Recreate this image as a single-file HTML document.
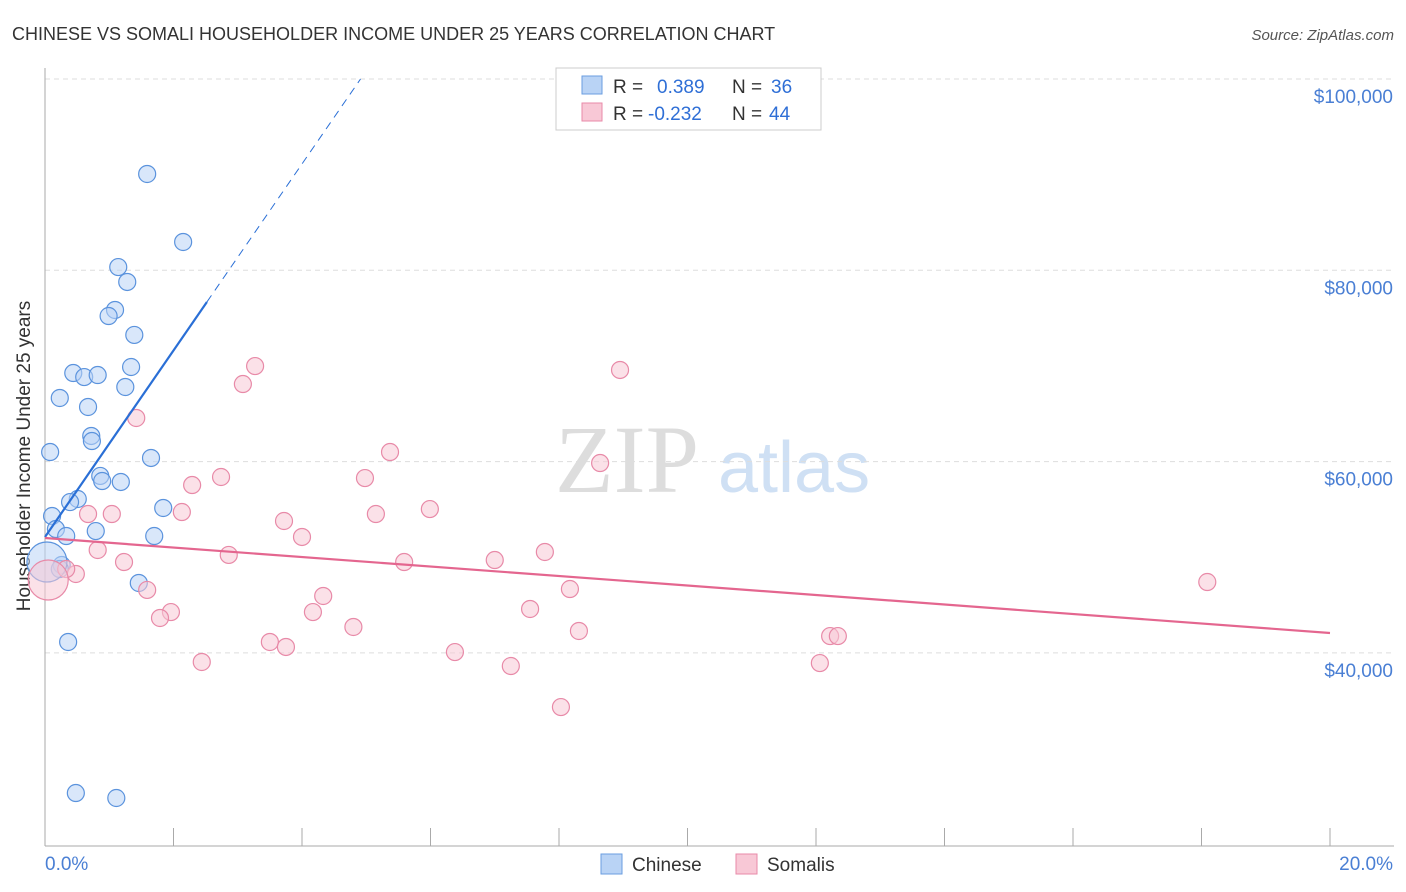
<!DOCTYPE html>
<html><head><meta charset="utf-8">
<style>
body{margin:0;background:#fff;font-family:"Liberation Sans",sans-serif;}
#wrap{position:relative;width:1406px;height:892px;overflow:hidden;}
</style></head>
<body>
<div id="wrap">
<svg id="chart" width="1406" height="892" xmlns="http://www.w3.org/2000/svg">
<text x="12" y="40" font-size="18" fill="#333">CHINESE VS SOMALI HOUSEHOLDER INCOME UNDER 25 YEARS CORRELATION CHART</text>
<text x="1394" y="40" font-size="15" fill="#555" font-style="italic" text-anchor="end">Source: ZipAtlas.com</text>
<text x="30" y="456" font-size="19" fill="#333" text-anchor="middle" transform="rotate(-90 30 456)">Householder Income Under 25 years</text>
<text x="555" y="492" font-size="96" fill="#ddd" font-family="Liberation Serif,serif">ZIP</text>
<text x="718" y="492" font-size="72" fill="#cfe0f4">atlas</text>
<g id="grid"></g><g id="marks"></g>
<g>
<rect x="556" y="68" width="265" height="62" fill="#fff" stroke="#ccc"/>
<rect x="582" y="76" width="20" height="18" fill="#b9d3f5" stroke="#6a9ee0"/>
<text x="613" y="93" font-size="19" fill="#333">R = </text><text x="657" y="93" font-size="19" fill="#2f6fd6">0.389</text>
<text x="732" y="93" font-size="19" fill="#333">N = </text><text x="771" y="93" font-size="19" fill="#2f6fd6">36</text>
<rect x="582" y="103" width="20" height="18" fill="#f8c8d6" stroke="#e88aa8"/>
<text x="613" y="120" font-size="19" fill="#333">R = </text><text x="648" y="120" font-size="19" fill="#2f6fd6">-0.232</text>
<text x="732" y="120" font-size="19" fill="#333">N = </text><text x="769" y="120" font-size="19" fill="#2f6fd6">44</text>
</g>
<g>
<rect x="601" y="854" width="21" height="20" fill="#b9d3f5" stroke="#6a9ee0"/>
<text x="632" y="871" font-size="19" fill="#333">Chinese</text>
<rect x="736" y="854" width="21" height="20" fill="#f8c8d6" stroke="#e88aa8"/>
<text x="767" y="871" font-size="19" fill="#333">Somalis</text>
</g>
<text x="45" y="870" font-size="19" fill="#4a7fd4">0.0%</text>
<text x="1393" y="870" font-size="19" fill="#4a7fd4" text-anchor="end">20.0%</text>
</svg>
</div>
<script>
const chineseX=[1.59,2.15,1.14,1.28,1.09,0.99,1.39,1.34,0.44,0.61,0.82,1.25,0.23,0.67,0.72,0.73,0.08,1.65,0.86,0.89,1.18,0.51,0.39,1.84,0.11,0.17,0.33,0.79,1.70,0.26,0.23,1.46,0.36,0.48,1.11,0.03];
const chineseY=[90070,82960,80340,78780,75850,75220,73240,69890,69260,68840,69050,67800,66650,65710,62680,62150,61000,60380,58500,57970,57870,56090,55770,55150,54310,52950,52220,52740,52220,49190,48770,47310,41140,25350,24830,49500];
const somaliX=[3.27,3.08,8.95,1.42,5.37,8.64,2.74,2.29,4.98,5.99,2.13,1.04,0.67,5.15,3.72,4.0,0.82,2.86,7.78,1.23,5.59,7.0,0.48,0.33,1.59,8.17,4.33,18.09,7.55,1.96,1.79,4.17,4.8,8.31,12.22,12.34,3.5,3.75,6.38,2.44,7.25,12.06,8.03,0.05];
const somaliY=[69990,68110,69580,64560,61000,59850,58390,57550,58280,55040,54730,54520,54520,54520,53790,52120,50760,50240,50550,49500,49500,49710,48250,48770,46580,46680,45950,47410,44590,44270,43650,44270,42710,42290,41760,41760,41140,40620,40090,39050,38630,38940,34340,47620];
const yTicks=[100000,80000,60000,40000];
const yTickLabels=["$100,000","$80,000","$60,000","$40,000"];
const xTicks=[0,2,4,6,8,10,12,14,16,18,20];
const chineseFit=[52120,9750];
const somaliFit=[52010,-496.5];
const NS="http://www.w3.org/2000/svg";
function sx(v){return 45+v*64.25;}
function sy(v){return 79+(100000-v)*191.3/20000;}
function mk(t,a,p){const e=document.createElementNS(NS,t);for(const k in a)e.setAttribute(k,a[k]);p.appendChild(e);return e;}
const grid=document.getElementById('grid'),marks=document.getElementById('marks');
yTicks.forEach((v,i)=>{
 const l=mk('line',{x1:45,x2:1394,y1:sy(v),y2:sy(v),stroke:'#ddd','stroke-dasharray':'5,4'},grid);
 
 
 const t=mk('text',{x:1393,y:sy(v)+24,'font-size':19,fill:'#4a7fd4','text-anchor':'end'},grid);
 t.textContent=yTickLabels[i];
 
 
});
const ax=mk('line',{x1:45,x2:45,y1:68,y2:846,stroke:'#aaa'},grid);


const bx=mk('line',{x1:45,x2:1394,y1:846,y2:846,stroke:'#aaa'},grid);


xTicks.forEach(v=>{
 const l=mk('line',{x1:sx(v),x2:sx(v),y1:828,y2:846,stroke:'#aaa'},grid);
 
 
});
function pts(X,Y,fill,stroke,name,bigIdx){
 X.forEach((x,i)=>{
  const c=mk('circle',{cx:sx(x),cy:sy(Y[i]),r:i===bigIdx?20:8.5,fill:fill,'fill-opacity':0.55,stroke:stroke,'stroke-width':1.2},marks);
  
  
 });
}
pts(chineseX,chineseY,'#b9d3f5','#5b93dd','chinese-point',35);
pts(somaliX,somaliY,'#f8c8d6','#e88aa8','somali-point',43);
const xe=2.52,xd=(100000-chineseFit[0])/chineseFit[1];
const cl=mk('line',{x1:sx(0),y1:sy(chineseFit[0]),x2:sx(xe),y2:sy(chineseFit[0]+chineseFit[1]*xe),stroke:'#2a6fd6','stroke-width':2.2},marks);


const cd=mk('line',{x1:sx(xe),y1:sy(chineseFit[0]+chineseFit[1]*xe),x2:sx(xd),y2:sy(100000),stroke:'#2a6fd6','stroke-width':1,'stroke-dasharray':'8,6'},marks);


const sl=mk('line',{x1:sx(0),y1:sy(somaliFit[0]),x2:sx(20),y2:sy(somaliFit[0]+somaliFit[1]*20),stroke:'#e4668f','stroke-width':2.2},marks);


</script>
</body></html>
